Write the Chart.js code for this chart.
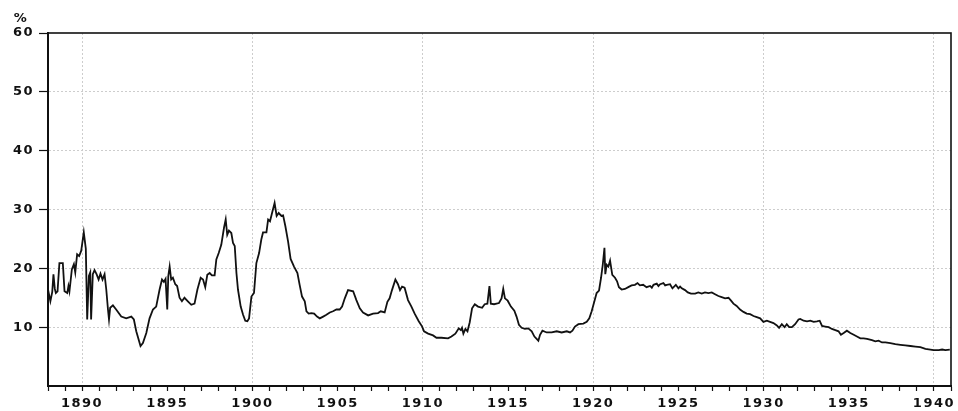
<!DOCTYPE html>
<html>
<head>
<meta charset="utf-8">
<script src="https://cdn.jsdelivr.net/npm/chart.js@4.4.1/dist/chart.umd.min.js"></script>
<style>
  html, body { margin: 0; padding: 0; background: #fff; }
  #wrap { width: 958px; height: 411px; }
</style>
</head>
<body>
<div id="wrap"><canvas id="c" width="958" height="411"></canvas></div>
<script>
// Observation dates (decimal years) and the matching rate in percent.
const dates = [
  1888.00, 1888.14, 1888.25, 1888.32, 1888.40, 1888.46, 1888.56, 1888.67, 1888.87, 1888.97,
  1889.13, 1889.20, 1889.26, 1889.40, 1889.52, 1889.60, 1889.71, 1889.83, 1889.95, 1890.10,
  1890.22, 1890.30, 1890.40, 1890.48, 1890.53, 1890.63, 1890.73, 1890.85, 1890.97, 1891.08,
  1891.20, 1891.32, 1891.42, 1891.52, 1891.58, 1891.65, 1891.81, 1892.00, 1892.30, 1892.59,
  1892.89, 1893.04, 1893.18, 1893.43, 1893.57, 1893.77, 1893.96, 1894.16, 1894.35, 1894.55,
  1894.69, 1894.80, 1894.90, 1895.00, 1895.06, 1895.14, 1895.23, 1895.33, 1895.47, 1895.58,
  1895.72, 1895.86, 1896.01, 1896.21, 1896.41, 1896.60, 1896.77, 1896.96, 1897.10, 1897.23,
  1897.35, 1897.49, 1897.62, 1897.78, 1897.88, 1898.02, 1898.17, 1898.33, 1898.43, 1898.52,
  1898.62, 1898.76, 1898.86, 1898.96, 1899.06, 1899.15, 1899.31, 1899.45, 1899.58, 1899.70,
  1899.80, 1899.94, 1900.09, 1900.23, 1900.39, 1900.52, 1900.62, 1900.82, 1900.92, 1901.03,
  1901.15, 1901.30, 1901.42, 1901.54, 1901.70, 1901.80, 1901.93, 1902.09, 1902.24, 1902.44,
  1902.64, 1902.77, 1902.91, 1903.07, 1903.17, 1903.30, 1903.46, 1903.62, 1903.79, 1903.95,
  1904.15, 1904.34, 1904.54, 1904.73, 1904.93, 1905.12, 1905.26, 1905.42, 1905.61, 1905.91,
  1906.10, 1906.30, 1906.49, 1906.79, 1907.08, 1907.37, 1907.53, 1907.76, 1907.92, 1908.05,
  1908.19, 1908.39, 1908.54, 1908.66, 1908.78, 1908.93, 1909.13, 1909.33, 1909.52, 1909.76,
  1909.96, 1910.07, 1910.31, 1910.60, 1910.80, 1911.09, 1911.48, 1911.68, 1911.91, 1912.11,
  1912.23, 1912.30, 1912.38, 1912.50, 1912.62, 1912.75, 1912.89, 1913.05, 1913.24, 1913.48,
  1913.63, 1913.79, 1913.91, 1913.99, 1914.18, 1914.47, 1914.62, 1914.72, 1914.82, 1914.98,
  1915.17, 1915.37, 1915.50, 1915.64, 1915.80, 1915.99, 1916.19, 1916.39, 1916.55, 1916.68,
  1916.78, 1916.88, 1917.02, 1917.27, 1917.56, 1917.86, 1918.15, 1918.45, 1918.64, 1918.78,
  1918.93, 1919.13, 1919.42, 1919.62, 1919.77, 1919.91, 1920.07, 1920.20, 1920.34, 1920.46,
  1920.56, 1920.66, 1920.71, 1920.79, 1920.89, 1920.99, 1921.12, 1921.28, 1921.40, 1921.51,
  1921.67, 1921.86, 1922.06, 1922.25, 1922.45, 1922.60, 1922.74, 1922.93, 1923.13, 1923.34,
  1923.44, 1923.54, 1923.73, 1923.83, 1923.93, 1924.12, 1924.22, 1924.32, 1924.51, 1924.65,
  1924.85, 1925.00, 1925.10, 1925.20, 1925.39, 1925.55, 1925.74, 1925.98, 1926.17, 1926.37,
  1926.56, 1926.76, 1926.96, 1927.15, 1927.35, 1927.54, 1927.74, 1927.94, 1928.09, 1928.23,
  1928.42, 1928.62, 1928.82, 1929.01, 1929.21, 1929.41, 1929.60, 1929.80, 1929.99, 1930.19,
  1930.38, 1930.58, 1930.78, 1930.91, 1931.07, 1931.23, 1931.36, 1931.50, 1931.66, 1931.85,
  1932.05, 1932.15, 1932.35, 1932.55, 1932.74, 1932.94, 1933.13, 1933.29, 1933.43, 1933.62,
  1933.82, 1934.01, 1934.21, 1934.40, 1934.54, 1934.70, 1934.89, 1935.09, 1935.29, 1935.48,
  1935.68, 1935.87, 1936.07, 1936.36, 1936.56, 1936.75, 1936.95, 1937.15, 1937.44, 1937.73,
  1938.03, 1938.32, 1938.62, 1938.91, 1939.20, 1939.50, 1939.79, 1939.98, 1940.28, 1940.48,
  1940.67, 1940.93
];

const rates = [
  16.4, 14.4, 16.0, 19.0, 16.5, 15.8, 16.1, 20.9, 20.9, 16.1,
  15.8, 17.0, 16.1, 19.8, 20.7, 19.3, 22.4, 22.1, 23.0, 26.1,
  23.3, 11.3, 18.7, 19.3, 11.3, 19.0, 19.7, 19.0, 18.1, 19.1,
  18.1, 19.0, 16.4, 13.0, 11.3, 13.3, 13.7, 13.0, 11.8, 11.5,
  11.8, 11.3, 9.3, 6.8, 7.3, 9.0, 11.5, 13.0, 13.5, 16.4,
  18.1, 17.7, 18.2, 13.0, 18.7, 20.3, 18.1, 18.4, 17.3, 17.0,
  15.0, 14.4, 15.0, 14.4, 13.8, 14.0, 16.4, 18.4, 18.1, 16.8,
  18.9, 19.2, 18.8, 18.8, 21.5, 22.6, 24.0, 26.9, 28.3, 25.7,
  26.4, 26.0, 24.3, 23.8, 19.2, 16.4, 13.5, 12.1, 11.1, 11.0,
  11.5, 15.2, 15.8, 20.9, 22.6, 24.9, 26.1, 26.1, 28.3, 28.0,
  29.4, 31.1, 28.9, 29.4, 28.9, 29.0, 27.2, 24.6, 21.6, 20.3,
  19.2, 17.2, 15.2, 14.4, 12.7, 12.3, 12.4, 12.3, 11.8, 11.5,
  11.8, 12.1, 12.5, 12.7, 13.0, 13.0, 13.5, 14.9, 16.3, 16.1,
  14.6, 13.2, 12.5, 12.0, 12.3, 12.4, 12.7, 12.5, 14.3, 14.9,
  16.3, 18.1, 17.3, 16.3, 16.9, 16.7, 14.6, 13.5, 12.3, 11.0,
  10.1, 9.3, 8.9, 8.6, 8.2, 8.2, 8.1, 8.4, 8.9, 9.8,
  9.5, 9.9, 8.9, 9.7, 9.3, 10.8, 13.2, 13.9, 13.5, 13.3,
  13.9, 14.0, 17.0, 14.0, 13.9, 14.1, 14.9, 16.5, 14.9, 14.5,
  13.5, 12.8, 11.8, 10.4, 9.9, 9.7, 9.8, 9.3, 8.4, 8.0,
  7.7, 8.7, 9.4, 9.1, 9.1, 9.3, 9.1, 9.3, 9.1, 9.4,
  10.1, 10.5, 10.6, 10.9, 11.5, 12.7, 14.4, 15.8, 16.2, 18.4,
  20.6, 23.5, 19.0, 20.6, 20.3, 21.3, 18.9, 18.4, 17.8, 16.8,
  16.4, 16.5, 16.8, 17.1, 17.2, 17.5, 17.1, 17.2, 16.8, 17.0,
  16.7, 17.2, 17.4, 17.0, 17.3, 17.5, 17.1, 17.2, 17.3, 16.6,
  17.2, 16.6, 16.9, 16.6, 16.3, 15.9, 15.7, 15.7, 15.9, 15.7,
  15.9, 15.8, 15.9, 15.6, 15.3, 15.1, 14.9, 15.0, 14.5, 14.0,
  13.6, 13.0, 12.6, 12.3, 12.2, 11.9, 11.7, 11.5, 10.9, 11.1,
  10.9, 10.7, 10.3, 9.9, 10.5, 10.0, 10.5, 10.0, 10.0, 10.5,
  11.3, 11.4, 11.1, 11.0, 11.1, 10.9, 11.0, 11.1, 10.2, 10.1,
  10.0, 9.7, 9.5, 9.3, 8.7, 9.0, 9.4, 9.0, 8.7, 8.4,
  8.1, 8.1, 8.0, 7.8, 7.6, 7.7, 7.4, 7.4, 7.3, 7.1,
  7.0, 6.9, 6.8, 6.7, 6.6, 6.3, 6.2, 6.1, 6.1, 6.2,
  6.1, 6.2
];

// Axis ranges
const yearStart = 1888;
const yearEnd = 1941;
const rateMax = 60;
const rateStep = 10;
const unitLabel = '%';

const INK = '#111';
const GRID = '#cdcdcd';
const CLEAR = 'rgba(0,0,0,0)';
const FONT = { family: "'DejaVu Sans', sans-serif", size: 13, weight: 'bold' };
const SPACING = '1.5px';

// Wider tracking for the axis numerals
const textSpacing = {
  id: 'textSpacing',
  beforeLayout(chart) { chart.ctx.letterSpacing = SPACING; },
  beforeDraw(chart) { chart.ctx.letterSpacing = SPACING; }
};

// Box around the plot area and the unit marker above the value axis
const frame = {
  id: 'frame',
  afterDraw(chart) {
    const { ctx, chartArea: a } = chart;
    ctx.save();
    ctx.strokeStyle = INK;
    ctx.lineWidth = 1.6;
    ctx.strokeRect(a.left, a.top, a.right - a.left, a.bottom - a.top);
    ctx.fillStyle = INK;
    ctx.font = `bold 13px ${FONT.family}`;
    ctx.textAlign = 'center';
    ctx.textBaseline = 'middle';
    ctx.fillText(unitLabel, 21, 19);
    ctx.restore();
  }
};

new Chart(document.getElementById('c'), {
  type: 'line',
  data: {
    datasets: [{
      data: dates.map((d, i) => ({ x: d, y: rates[i] })),
      borderColor: INK,
      borderWidth: 1.8,
      pointRadius: 0,
      tension: 0,
      fill: false
    }]
  },
  options: {
    responsive: false,
    animation: false,
    events: [],
    layout: { padding: { top: 33, right: 7, bottom: 0, left: 0 } },
    plugins: { legend: { display: false }, tooltip: { enabled: false } },
    scales: {
      x: {
        type: 'linear',
        min: yearStart,
        max: yearEnd,
        afterFit(s) { s.height = 25; },
        ticks: {
          stepSize: 1,
          autoSkip: false,
          maxRotation: 0,
          padding: 5,
          color: INK,
          font: FONT,
          callback: v => (v % 5 === 0 ? String(v) : '')
        },
        grid: {
          color: c => (c.tick && c.tick.value % 10 === 0 && c.tick.value > yearStart && c.tick.value < yearEnd) ? GRID : CLEAR,
          tickColor: INK,
          tickLength: 5,
          tickWidth: 1.2
        },
        border: { color: INK, width: 2, dash: [2, 2] }
      },
      y: {
        min: 0,
        max: rateMax,
        afterFit(s) { s.width = 48; },
        ticks: {
          stepSize: rateStep,
          padding: 5,
          color: INK,
          font: FONT,
          callback: v => (v === 0 ? '' : String(v))
        },
        grid: {
          color: c => (c.tick && c.tick.value > 0 && c.tick.value < rateMax) ? GRID : CLEAR,
          tickColor: c => (c.tick && c.tick.value === 0) ? CLEAR : INK,
          tickLength: 9,
          tickWidth: 1.2
        },
        border: { color: INK, width: 2, dash: [2, 2] }
      }
    }
  },
  plugins: [textSpacing, frame]
});
</script>
</body>
</html>
